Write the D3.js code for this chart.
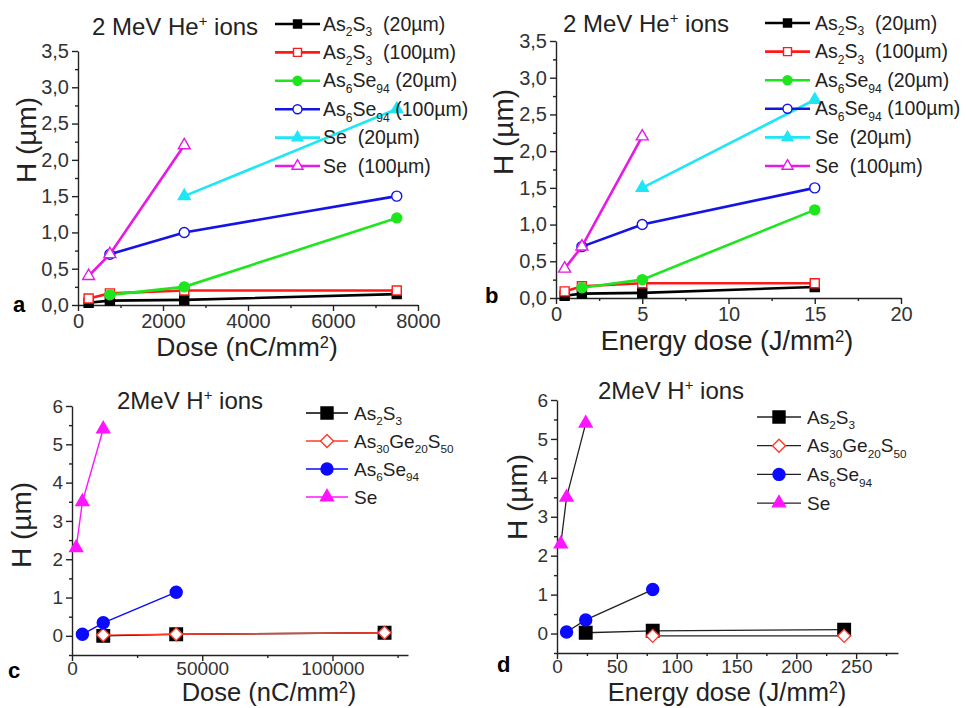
<!DOCTYPE html>
<html>
<head>
<meta charset="utf-8">
<script src="https://cdn.jsdelivr.net/npm/d3@7"></script>
<style>
  body { margin: 0; background: #fff; }
  svg text { font-family: "Liberation Sans", Arial, sans-serif; white-space: pre; }
</style>
</head>
<body>
<svg id="chart" width="966" height="708"></svg>
<script>
// ---- 2 MeV He+ ions (panels a, b) ----
const heDose = [250, 750, 2500, 7500];      // nC/mm2
const heEnergy = [0.5, 1.5, 5, 15];         // J/mm2
const heAs2S3_20 = [0.03, 0.06, 0.07, 0.15];
const heAs2S3_100 = [0.09, 0.16, 0.2, 0.2];
const heAs6Se94_20 = [null, 0.14, 0.25, 1.2];
const heAs6Se94_100 = [null, 0.7, 1.0, 1.5];
const heSe_20 = [null, null, 1.5, 2.7];
const heSe_100 = [0.4, 0.7, 2.2, null];
const heNames = ["As_{2}S_{3}  (20µm)", "As_{2}S_{3}  (100µm)", "As_{6}Se_{94} (20µm)",
                 "As_{6}Se_{94} (100µm)", "Se  (20µm)", "Se  (100µm)"];

// ---- 2 MeV H+ ions (panels c, d) ----
const hDose = [1600, 4000, 12000, 40000, 120000];   // nC/mm2
const hEnergy = [3.2, 8, 24, 80, 240];              // J/mm2
const hAs2S3_c = [null, null, 0.0, 0.04, 0.08];
const hAsGeS_c = [null, null, 0.02, 0.04, 0.08];
const hAs6Se94_c = [null, 0.04, 0.34, 1.14, null];
const hSe_c = [2.3, 3.5, 5.4, null, null];
const hAs2S3_d = [null, null, 0.02, 0.07, 0.1];
const hAsGeS_d = [null, null, null, -0.06, -0.06];
const hAs6Se94_d = [null, 0.04, 0.35, 1.13, null];
const hSe_d = [2.3, 3.5, 5.4, null, null];
const hNames = ["As_{2}S_{3}", "As_{30}Ge_{20}S_{50}", "As_{6}Se_{94}", "Se"];

// tick labels
const heYTicks = [0, 0.5, 1, 1.5, 2, 2.5, 3, 3.5];
const heDoseTicks = [0, 2000, 4000, 6000, 8000];
const heEnergyTicks = [0, 5, 10, 15, 20];
const hYTicks = [0, 1, 2, 3, 4, 5, 6];
const hDoseTicks = [0, 50000, 100000];
const hEnergyTicks = [0, 50, 100, 150, 200, 250];

// marker / line styles
const heStyles = [
  { color: "#000000", shape: "square", filled: true },
  { color: "#ff1a1a", shape: "square", filled: false },
  { color: "#1ee61e", shape: "circle", filled: true },
  { color: "#1414e6", shape: "circle", filled: false },
  { color: "#1ee6f5", shape: "triangle", filled: true },
  { color: "#e619e6", shape: "triangle", filled: false },
];
const hStyles = [
  { color: "#000000", shape: "square", filled: true },
  { color: "#ff3a2a", shape: "diamond", filled: false },
  { color: "#0a0aff", shape: "circle", filled: true },
  { color: "#ff14ff", shape: "triangle", filled: true },
];

const svg = d3.select("#chart");
const commaFmt = (d) => d3.format(".1f")(d).replace(".", ",");

// text with _{sub} and ^{sup} parts
function richText(sel, str, fs, supK = 0.38) {
  const re = /([_^])\{([^}]*)\}|([^_^]+)/g;
  let off = 0, m;
  while ((m = re.exec(str))) {
    if (m[3]) {
      sel.append("tspan").attr("dy", -off).text(m[3]);
      off = 0;
    } else {
      const shift = m[1] === "_" ? 0.3 * fs : -supK * fs;
      sel.append("tspan").attr("dy", shift - off).style("font-size", fs * 0.62 + "px").text(m[2]);
      off = shift;
    }
  }
}

function drawMarker(g, st, w, cx, cy, sw) {
  let sym, rot = 0;
  if (st.shape === "square") sym = d3.symbol(d3.symbolSquare, w * w);
  else if (st.shape === "diamond") { sym = d3.symbol(d3.symbolSquare, (w * w) / 2); rot = 45; }
  else if (st.shape === "circle") sym = d3.symbol(d3.symbolCircle, (Math.PI * w * w) / 4);
  else sym = d3.symbol(d3.symbolTriangle, (Math.sqrt(3) / 4) * w * w);
  g.append("path")
    .attr("d", sym())
    .attr("transform", `translate(${cx},${cy}) rotate(${rot})`)
    .attr("fill", st.filled ? st.color : "#fff")
    .attr("stroke", st.color)
    .attr("stroke-width", sw);
}

function drawPanel(p) {
  const x = d3.scaleLinear().domain(p.xDomain).range([p.left, p.right]);
  const y = d3.scaleLinear().domain(p.yDomain).range([p.bottom, p.top]);
  const g = svg.append("g");

  // minor ticks
  g.append("g")
    .attr("transform", `translate(0,${p.bottom})`)
    .call(d3.axisBottom(x).tickValues(p.xMinor).tickSize(3).tickFormat(""))
    .call((s) => s.select(".domain").remove());
  g.append("g")
    .attr("transform", `translate(${p.left},0)`)
    .call(d3.axisLeft(y).tickValues(p.yMinor).tickSize(3).tickFormat(""))
    .call((s) => s.select(".domain").remove());

  // major axes
  const xa = g.append("g")
    .attr("transform", `translate(0,${p.bottom})`)
    .call(d3.axisBottom(x).tickValues(p.xTicks).tickSize(6).tickSizeOuter(0).tickPadding(p.xPad).tickFormat(d3.format("d")));
  const ya = g.append("g")
    .attr("transform", `translate(${p.left},0)`)
    .call(d3.axisLeft(y).tickValues(p.yTicks).tickSize(6).tickSizeOuter(0).tickPadding(3).tickFormat(p.yFormat));
  xa.selectAll("text").style("font-size", p.xTickFs + "px").attr("fill", "#333");
  ya.selectAll("text").style("font-size", p.yTickFs + "px").attr("fill", "#333");
  g.selectAll(".domain, .tick line").attr("stroke", "#222").attr("stroke-width", 1.4);

  // series
  p.series.forEach((ys, i) => {
    const st = p.styles[i];
    const pts = p.xs.map((xv, j) => [xv, ys[j]]).filter((d) => d[1] !== null);
    g.append("path")
      .datum(pts)
      .attr("fill", "none")
      .attr("stroke", p.lineColor || st.color)
      .attr("stroke-width", p.lineW)
      .attr("d", d3.line().x((d) => x(d[0])).y((d) => y(d[1])));
    pts.forEach((d) => drawMarker(g, st, p.markW[st.shape], x(d[0]), y(d[1]), p.markSw));
  });

  // legend
  p.names.forEach((name, i) => {
    const st = p.styles[i];
    const ly = p.leg.y + i * p.leg.step;
    g.append("line")
      .attr("x1", p.leg.x0).attr("x2", p.leg.x1).attr("y1", ly).attr("y2", ly)
      .attr("stroke", p.lineColor || st.color).attr("stroke-width", p.lineW);
    drawMarker(g, st, p.leg.mw[st.shape], (p.leg.x0 + p.leg.x1) / 2, ly, p.markSw);
    const t = g.append("text").attr("x", p.leg.tx).attr("y", ly + 6.5)
      .style("font-size", p.leg.fs + "px").attr("fill", "#222");
    richText(t, name, p.leg.fs);
  });

  // title
  const tt = g.append("text").attr("x", p.title.x).attr("y", p.title.y)
    .style("font-size", p.title.fs + "px").attr("fill", "#222");
  richText(tt, p.title.text, p.title.fs);

  // axis titles
  const xt = g.append("text").attr("x", p.xLabel.x).attr("y", p.xLabel.y)
    .attr("text-anchor", "middle").style("font-size", p.xLabel.fs + "px").attr("fill", "#222");
  richText(xt, p.xLabel.text, p.xLabel.fs, 0.3);
  g.append("text")
    .attr("transform", `translate(${p.yLabel.x},${p.yLabel.y}) rotate(-90)`)
    .attr("text-anchor", "middle")
    .style("font-size", p.yLabel.fs + "px").attr("fill", "#222")
    .text("H (µm)");

  // panel letter
  g.append("text").attr("x", p.letter.x).attr("y", p.letter.y)
    .style("font-size", "22px").style("font-weight", "bold").text(p.letter.text);
}

const heMark = { square: 9, circle: 10, triangle: 12 };
const heLegMark = { square: 8, circle: 9, triangle: 11 };
const hMark = { square: 12.5, circle: 12, triangle: 13, diamond: 13 };
const hLegMark = { square: 12, circle: 12, triangle: 13, diamond: 13 };

const heSeries = [heAs2S3_20, heAs2S3_100, heAs6Se94_20, heAs6Se94_100, heSe_20, heSe_100];

drawPanel({
  left: 78, right: 418, top: 51, bottom: 305,
  xDomain: [0, 8000], yDomain: [0, 3.5],
  xTicks: heDoseTicks, yTicks: heYTicks,
  xMinor: d3.range(1000, 8000, 2000), yMinor: d3.range(0.25, 3.5, 0.5),
  yFormat: commaFmt, xTickFs: 20, yTickFs: 20, xPad: 3,
  xs: heDose, series: heSeries, styles: heStyles, names: heNames,
  lineW: 2.6, markSw: 1.4, markW: heMark,
  leg: { x0: 275, x1: 320, tx: 323, y: 24, step: 28.4, fs: 19.5, mw: heLegMark },
  title: { text: "2 MeV He^{+} ions", x: 92, y: 35, fs: 24 },
  xLabel: { text: "Dose (nC/mm^{2})", x: 247, y: 356, fs: 26.5 },
  yLabel: { x: 36, y: 140, fs: 28 },
  letter: { text: "a", x: 13, y: 312 },
});

drawPanel({
  left: 556, right: 901, top: 41, bottom: 298,
  xDomain: [0, 20], yDomain: [0, 3.5],
  xTicks: heEnergyTicks, yTicks: heYTicks,
  xMinor: d3.range(2.5, 20, 5), yMinor: d3.range(0.25, 3.5, 0.5),
  yFormat: commaFmt, xTickFs: 20, yTickFs: 20, xPad: 3,
  xs: heEnergy, series: heSeries, styles: heStyles, names: heNames,
  lineW: 2.6, markSw: 1.4, markW: heMark,
  leg: { x0: 765, x1: 810, tx: 815, y: 23, step: 28.6, fs: 19.5, mw: heLegMark },
  title: { text: "2 MeV He^{+} ions", x: 563, y: 32, fs: 24 },
  xLabel: { text: "Energy dose (J/mm^{2})", x: 727, y: 350, fs: 27 },
  yLabel: { x: 513, y: 132, fs: 28 },
  letter: { text: "b", x: 485, y: 303 },
});

drawPanel({
  left: 72, right: 408, top: 406, bottom: 655,
  xDomain: [0, 129000], yDomain: [-0.5, 6],
  xTicks: hDoseTicks, yTicks: hYTicks,
  xMinor: d3.range(25000, 129000, 50000), yMinor: d3.range(-0.5, 6, 1),
  yFormat: d3.format("d"), xTickFs: 19, yTickFs: 19, xPad: 1,
  xs: hDose, series: [hAs2S3_c, hAsGeS_c, hAs6Se94_c, hSe_c], styles: hStyles, names: hNames,
  lineW: 1.4, markSw: 1.4, markW: hMark,
  leg: { x0: 306, x1: 348, tx: 354, y: 413, step: 28, fs: 19, mw: hLegMark },
  title: { text: "2MeV H^{+} ions", x: 117, y: 409, fs: 24 },
  xLabel: { text: "Dose (nC/mm^{2})", x: 269, y: 701, fs: 25.5 },
  yLabel: { x: 31, y: 525, fs: 28 },
  letter: { text: "c", x: 8, y: 678 },
});

drawPanel({
  left: 557, right: 898, top: 400, bottom: 653,
  xDomain: [0, 285], yDomain: [-0.5, 6],
  xTicks: hEnergyTicks, yTicks: hYTicks,
  xMinor: d3.range(25, 285, 50), yMinor: d3.range(-0.5, 6, 1),
  yFormat: d3.format("d"), xTickFs: 19, yTickFs: 19, xPad: 1,
  xs: hEnergy, series: [hAs2S3_d, hAsGeS_d, hAs6Se94_d, hSe_d], styles: hStyles, names: hNames,
  lineColor: "#222", lineW: 1.3, markSw: 1.4, markW: hMark,
  leg: { x0: 757, x1: 801, tx: 807, y: 417, step: 28.7, fs: 19, mw: hLegMark },
  title: { text: "2MeV H^{+} ions", x: 598, y: 399, fs: 24 },
  xLabel: { text: "Energy dose (J/mm^{2})", x: 727, y: 701, fs: 25.5 },
  yLabel: { x: 527, y: 497, fs: 28 },
  letter: { text: "d", x: 497, y: 672 },
});
</script>
</body>
</html>
